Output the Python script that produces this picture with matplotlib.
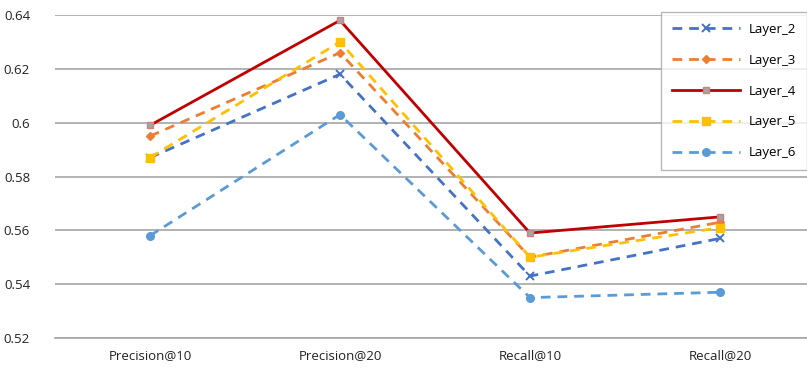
import matplotlib.pyplot as plt

# categories and series values
categories = ["Precision@10", "Precision@20", "Recall@10", "Recall@20"]
layer_2 = [0.587, 0.618, 0.543, 0.557]
layer_3 = [0.595, 0.626, 0.550, 0.563]
layer_4 = [0.599, 0.638, 0.559, 0.565]
layer_5 = [0.587, 0.630, 0.550, 0.561]
layer_6 = [0.558, 0.603, 0.535, 0.537]
y_ticks = [0.52, 0.54, 0.56, 0.58, 0.6, 0.62, 0.64]
y_labels = ["0.52", "0.54", "0.56", "0.58", "0.6", "0.62", "0.64"]

plt.rcParams['font.family'] = ['Open Sans', 'DejaVu Sans']

fig = plt.figure(figsize=(8.07, 3.73), dpi=100)
ax = fig.add_axes([55 / 807, 1 - 338 / 373, 752 / 807, 323 / 373])

x = range(len(categories))
dash = (0, (3.5, 2.5))
ax.plot(x, layer_2, color='#4472C4', ls=dash, lw=2, marker='x', ms=5.5, mew=1.4, label='Layer_2', zorder=3)
ax.plot(x, layer_3, color='#ED7D31', ls=dash, lw=2, marker='D', ms=4.5, label='Layer_3', zorder=3)
ax.plot(x, layer_4, color='#C00000', ls='-', lw=2, marker='s', ms=4.5, mfc='#A5A5A5', mec='#D08080', label='Layer_4', zorder=4)
ax.plot(x, layer_5, color='#FFC000', ls=dash, lw=2, marker='s', ms=5.5, label='Layer_5', zorder=3)
ax.plot(x, layer_6, color='#5B9BD5', ls=dash, lw=2, marker='o', ms=5.5, label='Layer_6', zorder=3)

ax.set_xlim(-0.5, 3.458)
ax.set_ylim(0.52, 0.64)
ax.set_yticks(y_ticks)
ax.set_yticklabels(y_labels)
ax.set_xticks(list(x))
ax.set_xticklabels(categories)
ax.grid(axis='y', color='#A6A6A6', lw=1.2)
ax.set_axisbelow(True)
for s in ['top', 'right', 'left']:
    ax.spines[s].set_visible(False)
ax.spines['bottom'].set_color('#A6A6A6')
ax.spines['bottom'].set_linewidth(1.2)
ax.tick_params(length=0, labelsize=9.5, colors='#222222')
ax.tick_params(axis='y', pad=18)
ax.tick_params(axis='x', pad=8)

leg = ax.legend(loc='upper right', bbox_to_anchor=(1.0, 1.01), fontsize=9.5, frameon=True,
                fancybox=False, edgecolor='#A6A6A6', handlelength=5.2, labelspacing=1.35,
                borderpad=0.85, handletextpad=0.6, borderaxespad=0.0)
leg.get_frame().set_linewidth(1.0)

fig.savefig('out.png', dpi=100)
